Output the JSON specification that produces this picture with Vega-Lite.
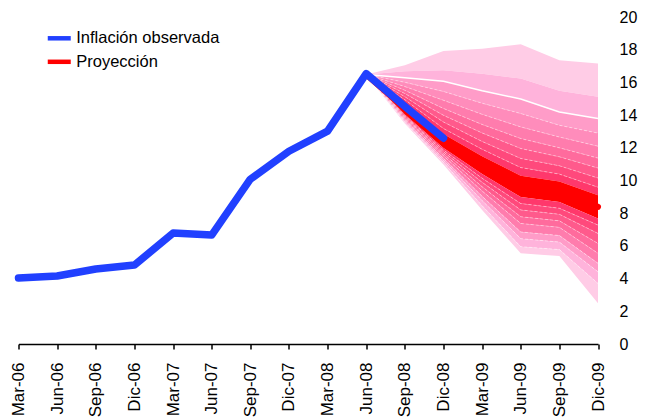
{
"$schema":"https://vega.github.io/schema/vega-lite/v6.json",
"width":579.5,"height":326.7,
"autosize":{"type":"none"},
"padding":{"left":18.5,"top":17.3,"right":49,"bottom":73},
"background":"white",
"title":{"text":"Inflación total (%, anual hasta hoy)","anchor":"start","frame":"group","orient":"top","baseline":"alphabetic","offset":18.8,"dx":111,"fontSize":17,"fontWeight":"bold","font":"Liberation Sans","color":"black"},
"config":{"view":{"stroke":null},"axis":{"grid":false,"labelFont":"Liberation Sans","labelColor":"black","labelOverlap":false}},
"datasets":{
"bandas":[
{"f":"Jun-08","b":"u9","lo":16.5,"hi":16.5},{"f":"Sep-08","b":"u9","lo":16.7,"hi":17.06},{"f":"Dic-08","b":"u9","lo":16.76,"hi":17.94},{"f":"Mar-09","b":"u9","lo":16.55,"hi":18.08},{"f":"Jun-09","b":"u9","lo":16.25,"hi":18.35},{"f":"Sep-09","b":"u9","lo":15.5,"hi":17.37},{"f":"Dic-09","b":"u9","lo":15.13,"hi":17.17},
{"f":"Jun-08","b":"u8","lo":16.5,"hi":16.5},{"f":"Sep-08","b":"u8","lo":16.3,"hi":16.7},{"f":"Dic-08","b":"u8","lo":16.09,"hi":16.76},{"f":"Mar-09","b":"u8","lo":15.5,"hi":16.55},{"f":"Jun-09","b":"u8","lo":15.0,"hi":16.25},{"f":"Sep-09","b":"u8","lo":14.2,"hi":15.5},{"f":"Dic-09","b":"u8","lo":13.8,"hi":15.13},
{"f":"Jun-08","b":"u7","lo":16.5,"hi":16.5},{"f":"Sep-08","b":"u7","lo":16.02,"hi":16.3},{"f":"Dic-08","b":"u7","lo":15.46,"hi":16.09},{"f":"Mar-09","b":"u7","lo":14.74,"hi":15.5},{"f":"Jun-09","b":"u7","lo":14.11,"hi":15.0},{"f":"Sep-09","b":"u7","lo":13.39,"hi":14.2},{"f":"Dic-09","b":"u7","lo":12.91,"hi":13.8},
{"f":"Jun-08","b":"u6","lo":16.5,"hi":16.5},{"f":"Sep-08","b":"u6","lo":15.76,"hi":16.02},{"f":"Dic-08","b":"u6","lo":14.92,"hi":15.46},{"f":"Mar-09","b":"u6","lo":14.06,"hi":14.74},{"f":"Jun-09","b":"u6","lo":13.29,"hi":14.11},{"f":"Sep-09","b":"u6","lo":12.67,"hi":13.39},{"f":"Dic-09","b":"u6","lo":12.11,"hi":12.91},
{"f":"Jun-08","b":"u5","lo":16.5,"hi":16.5},{"f":"Sep-08","b":"u5","lo":15.53,"hi":15.76},{"f":"Dic-08","b":"u5","lo":14.42,"hi":14.92},{"f":"Mar-09","b":"u5","lo":13.44,"hi":14.06},{"f":"Jun-09","b":"u5","lo":12.58,"hi":13.29},{"f":"Sep-09","b":"u5","lo":12.01,"hi":12.67},{"f":"Dic-09","b":"u5","lo":11.38,"hi":12.11},
{"f":"Jun-08","b":"u4","lo":16.5,"hi":16.5},{"f":"Sep-08","b":"u4","lo":15.33,"hi":15.53},{"f":"Dic-08","b":"u4","lo":14.0,"hi":14.42},{"f":"Mar-09","b":"u4","lo":12.92,"hi":13.44},{"f":"Jun-09","b":"u4","lo":11.97,"hi":12.58},{"f":"Sep-09","b":"u4","lo":11.46,"hi":12.01},{"f":"Dic-09","b":"u4","lo":10.77,"hi":11.38},
{"f":"Jun-08","b":"u3","lo":16.5,"hi":16.5},{"f":"Sep-08","b":"u3","lo":15.14,"hi":15.33},{"f":"Dic-08","b":"u3","lo":13.59,"hi":14.0},{"f":"Mar-09","b":"u3","lo":12.4,"hi":12.92},{"f":"Jun-09","b":"u3","lo":11.36,"hi":11.97},{"f":"Sep-09","b":"u3","lo":10.91,"hi":11.46},{"f":"Dic-09","b":"u3","lo":10.16,"hi":10.77},
{"f":"Jun-08","b":"u2","lo":16.5,"hi":16.5},{"f":"Sep-08","b":"u2","lo":14.96,"hi":15.14},{"f":"Dic-08","b":"u2","lo":13.19,"hi":13.59},{"f":"Mar-09","b":"u2","lo":11.92,"hi":12.4},{"f":"Jun-09","b":"u2","lo":10.8,"hi":11.36},{"f":"Sep-09","b":"u2","lo":10.4,"hi":10.91},{"f":"Dic-09","b":"u2","lo":9.6,"hi":10.16},
{"f":"Jun-08","b":"u1","lo":16.5,"hi":16.5},{"f":"Sep-08","b":"u1","lo":14.8,"hi":14.96},{"f":"Dic-08","b":"u1","lo":12.85,"hi":13.19},{"f":"Mar-09","b":"u1","lo":11.5,"hi":11.92},{"f":"Jun-09","b":"u1","lo":10.3,"hi":10.8},{"f":"Sep-09","b":"u1","lo":9.95,"hi":10.4},{"f":"Dic-09","b":"u1","lo":9.1,"hi":9.6},
{"f":"Jun-08","b":"C","lo":16.5,"hi":16.5},{"f":"Sep-08","b":"C","lo":14.05,"hi":14.8},{"f":"Dic-08","b":"C","lo":12.0,"hi":12.85},{"f":"Mar-09","b":"C","lo":10.4,"hi":11.5},{"f":"Jun-09","b":"C","lo":9.0,"hi":10.3},{"f":"Sep-09","b":"C","lo":8.7,"hi":9.95},{"f":"Dic-09","b":"C","lo":7.69,"hi":9.1},
{"f":"Jun-08","b":"l1","lo":16.5,"hi":16.5},{"f":"Sep-08","b":"l1","lo":13.99,"hi":14.05},{"f":"Dic-08","b":"l1","lo":11.88,"hi":12.0},{"f":"Mar-09","b":"l1","lo":10.15,"hi":10.4},{"f":"Jun-09","b":"l1","lo":8.6,"hi":9.0},{"f":"Sep-09","b":"l1","lo":8.31,"hi":8.7},{"f":"Dic-09","b":"l1","lo":7.28,"hi":7.69},
{"f":"Jun-08","b":"l2","lo":16.5,"hi":16.5},{"f":"Sep-08","b":"l2","lo":13.92,"hi":13.99},{"f":"Dic-08","b":"l2","lo":11.77,"hi":11.88},{"f":"Mar-09","b":"l2","lo":9.9,"hi":10.15},{"f":"Jun-09","b":"l2","lo":8.21,"hi":8.6},{"f":"Sep-09","b":"l2","lo":7.94,"hi":8.31},{"f":"Dic-09","b":"l2","lo":6.77,"hi":7.28},
{"f":"Jun-08","b":"l3","lo":16.5,"hi":16.5},{"f":"Sep-08","b":"l3","lo":13.86,"hi":13.92},{"f":"Dic-08","b":"l3","lo":11.65,"hi":11.77},{"f":"Mar-09","b":"l3","lo":9.63,"hi":9.9},{"f":"Jun-09","b":"l3","lo":7.79,"hi":8.21},{"f":"Sep-09","b":"l3","lo":7.54,"hi":7.94},{"f":"Dic-09","b":"l3","lo":6.16,"hi":6.77},
{"f":"Jun-08","b":"l4","lo":16.5,"hi":16.5},{"f":"Sep-08","b":"l4","lo":13.79,"hi":13.86},{"f":"Dic-08","b":"l4","lo":11.53,"hi":11.65},{"f":"Mar-09","b":"l4","lo":9.37,"hi":9.63},{"f":"Jun-09","b":"l4","lo":7.38,"hi":7.79},{"f":"Sep-09","b":"l4","lo":7.14,"hi":7.54},{"f":"Dic-09","b":"l4","lo":5.55,"hi":6.16},
{"f":"Jun-08","b":"l5","lo":16.5,"hi":16.5},{"f":"Sep-08","b":"l5","lo":13.71,"hi":13.79},{"f":"Dic-08","b":"l5","lo":11.37,"hi":11.53},{"f":"Mar-09","b":"l5","lo":9.04,"hi":9.37},{"f":"Jun-09","b":"l5","lo":6.86,"hi":7.38},{"f":"Sep-09","b":"l5","lo":6.64,"hi":7.14},{"f":"Dic-09","b":"l5","lo":4.94,"hi":5.55},
{"f":"Jun-08","b":"l6","lo":16.5,"hi":16.5},{"f":"Sep-08","b":"l6","lo":13.64,"hi":13.71},{"f":"Dic-08","b":"l6","lo":11.25,"hi":11.37},{"f":"Mar-09","b":"l6","lo":8.78,"hi":9.04},{"f":"Jun-09","b":"l6","lo":6.45,"hi":6.86},{"f":"Sep-09","b":"l6","lo":6.24,"hi":6.64},{"f":"Dic-09","b":"l6","lo":4.42,"hi":4.94},
{"f":"Jun-08","b":"l7","lo":16.5,"hi":16.5},{"f":"Sep-08","b":"l7","lo":13.57,"hi":13.64},{"f":"Dic-08","b":"l7","lo":11.11,"hi":11.25},{"f":"Mar-09","b":"l7","lo":8.47,"hi":8.78},{"f":"Jun-09","b":"l7","lo":5.96,"hi":6.45},{"f":"Sep-09","b":"l7","lo":5.78,"hi":6.24},{"f":"Dic-09","b":"l7","lo":3.71,"hi":4.42},
{"f":"Jun-08","b":"l8","lo":16.5,"hi":16.5},{"f":"Sep-08","b":"l8","lo":13.5,"hi":13.57},{"f":"Dic-08","b":"l8","lo":10.99,"hi":11.11},{"f":"Mar-09","b":"l8","lo":8.21,"hi":8.47},{"f":"Jun-09","b":"l8","lo":5.55,"hi":5.96},{"f":"Sep-09","b":"l8","lo":5.38,"hi":5.78},{"f":"Dic-09","b":"l8","lo":2.49,"hi":3.71}
],
"lineas":[
{"f":"Mar-06","v":4.04,"s":"Inflación observada"},{"f":"Jun-06","v":4.16,"s":"Inflación observada"},{"f":"Sep-06","v":4.59,"s":"Inflación observada"},{"f":"Dic-06","v":4.83,"s":"Inflación observada"},{"f":"Mar-07","v":6.79,"s":"Inflación observada"},{"f":"Jun-07","v":6.67,"s":"Inflación observada"},{"f":"Sep-07","v":10.09,"s":"Inflación observada"},{"f":"Dic-07","v":11.8,"s":"Inflación observada"},{"f":"Mar-08","v":13.03,"s":"Inflación observada"},{"f":"Jun-08","v":16.55,"s":"Inflación observada"},{"f":"Sep-08","v":14.55,"s":"Inflación observada"},{"f":"Dic-08","v":12.6,"s":"Inflación observada"},
{"f":"Jun-08","v":16.5,"s":"Proyección"},{"f":"Sep-08","v":14.42,"s":"Proyección"},{"f":"Dic-08","v":12.42,"s":"Proyección"},{"f":"Mar-09","v":10.95,"s":"Proyección"},{"f":"Jun-09","v":9.65,"s":"Proyección"},{"f":"Sep-09","v":9.33,"s":"Proyección"},{"f":"Dic-09","v":8.4,"s":"Proyección"}
]},
"encoding":{
"x":{"field":"f","type":"ordinal","scale":{"type":"point","padding":0,"domain":["Mar-06","Jun-06","Sep-06","Dic-06","Mar-07","Jun-07","Sep-07","Dic-07","Mar-08","Jun-08","Sep-08","Dic-08","Mar-09","Jun-09","Sep-09","Dic-09"]},
"axis":{"title":null,"labelAngle":-90,"labelFontSize":17,"labelPadding":13,"tickSize":5,"tickColor":"black","tickWidth":1.5,"domainColor":"black","domainWidth":1.5,"labelOverlap":false}}
},
"layer":[
{"data":{"name":"bandas"},"mark":{"type":"area","opacity":1},
"encoding":{
"y":{"field":"lo","type":"quantitative","scale":{"domain":[0,20],"nice":false},"axis":{"orient":"right","title":null,"domain":false,"ticks":false,"values":[0,2,4,6,8,10,12,14,16,18,20],"labelFontSize":16,"labelPadding":21,"labelFlush":false,"labelOverlap":false}},
"y2":{"field":"hi"},
"fill":{"field":"b","type":"nominal","legend":null,"scale":{"domain":["u9","u8","u7","u6","u5","u4","u3","u2","u1","C","l1","l2","l3","l4","l5","l6","l7","l8"],"range":["#FFCCE6","#FFB3DB","#FF9CC8","#FF8CBB","#FF7CAD","#FF6B9D","#FF5A8C","#FF497C","#FF386C","#FF0000","#FF386C","#FF497C","#FF5A8C","#FF6B9D","#FF7CAD","#FF9CC8","#FFB3DB","#FFCCE6"]}}
}},
{"data":{"name":"bandas"},"transform":[{"filter":{"field":"b","oneOf":["u1","u2","u3","u4","u5","u6","l2","l3","l4","l5","l6","l7","l8"]}}],
"mark":{"type":"line","color":"white","strokeWidth":0.7,"strokeDash":[3,2],"opacity":0.6},
"encoding":{"y":{"field":"hi","type":"quantitative","axis":{"orient":"right","title":null,"domain":false,"ticks":false,"values":[0,2,4,6,8,10,12,14,16,18,20],"labelFontSize":16,"labelPadding":21,"labelFlush":false,"labelOverlap":false}},"detail":{"field":"b"}}},
{"data":{"name":"bandas"},"transform":[{"filter":{"field":"b","equal":"u7"}}],
"mark":{"type":"line","color":"white","strokeWidth":1.5},
"encoding":{"y":{"field":"hi","type":"quantitative","axis":{"orient":"right","title":null,"domain":false,"ticks":false,"values":[0,2,4,6,8,10,12,14,16,18,20],"labelFontSize":16,"labelPadding":21,"labelFlush":false,"labelOverlap":false}}}},
{"data":{"name":"lineas"},"transform":[{"filter":{"field":"s","equal":"Proyección"}}],
"mark":{"type":"line","strokeWidth":6,"strokeCap":"round","strokeJoin":"round"},
"encoding":{"y":{"field":"v","type":"quantitative","axis":{"orient":"right","title":null,"domain":false,"ticks":false,"values":[0,2,4,6,8,10,12,14,16,18,20],"labelFontSize":16,"labelPadding":21,"labelFlush":false,"labelOverlap":false}},
"color":{"field":"s","type":"nominal","scale":{"domain":["Inflación observada","Proyección"],"range":["#2140FF","#FF0000"]},
"legend":{"orient":"none","legendX":26.75,"legendY":7,"title":null,"symbolType":"stroke","symbolSize":529,"symbolStrokeWidth":4.5,"labelFontSize":16.5,"labelFont":"Liberation Sans","labelColor":"black","labelOffset":3,"rowPadding":0.5,"padding":0}}}},
{"data":{"name":"lineas"},"transform":[{"filter":{"field":"s","equal":"Inflación observada"}}],
"mark":{"type":"line","strokeWidth":7.5,"strokeCap":"round","strokeJoin":"round"},
"encoding":{"y":{"field":"v","type":"quantitative","axis":{"orient":"right","title":null,"domain":false,"ticks":false,"values":[0,2,4,6,8,10,12,14,16,18,20],"labelFontSize":16,"labelPadding":21,"labelFlush":false,"labelOverlap":false}},
"color":{"field":"s","type":"nominal","scale":{"domain":["Inflación observada","Proyección"],"range":["#2140FF","#FF0000"]}}}}
]
}
